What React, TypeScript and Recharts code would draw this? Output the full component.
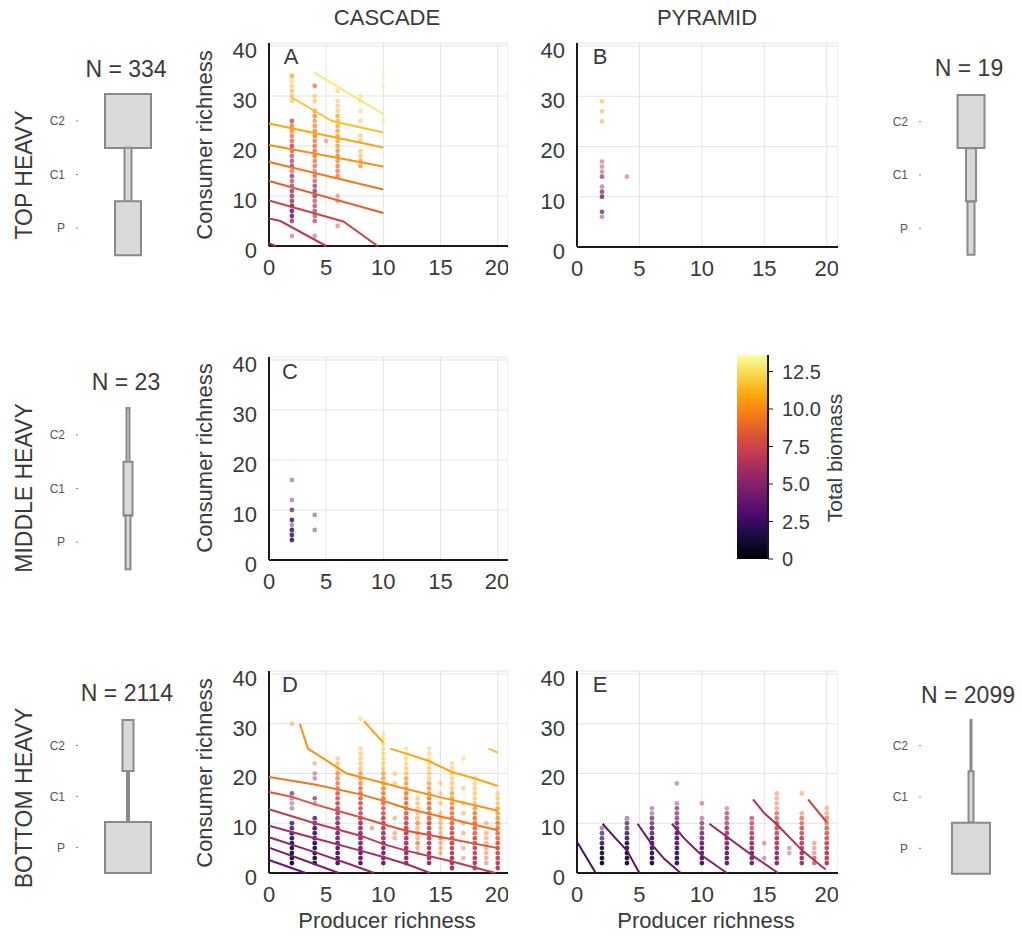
import React from "react";
import { ScatterChart, Scatter, XAxis, YAxis, CartesianGrid, BarChart, Bar } from "recharts";

const FONT = '"Liberation Sans", Arial, sans-serif';
const INK = "#3a3a3a";

// inferno colour map, 0 .. BIOMASS_MAX
const INFERNO = ["#000004", "#160b39", "#420a68", "#6a176e", "#932667", "#bc3754", "#dd513a", "#f37819", "#fca50a", "#f6d746", "#fcffa4"];
const BIOMASS_MAX = 13.6;

const X_TICKS = [0, 5, 10, 15, 20];
const Y_TICKS = [0, 10, 20, 30, 40];
const CB_TICKS = [0, 2.5, 5, 7.5, 10, 12.5];
const LEVELS = ["C2", "C1", "P"];

// trophic pyramids: box widths for C2, C1, P
const TOP_CASCADE = [46, 7, 26];
const MID_CASCADE = [3, 9, 5];
const BOT_CASCADE = [11, 2, 46];
const TOP_PYRAMID = [27, 10, 7];
const BOT_PYRAMID = [1, 5, 38];

// points: [producer richness, consumer richness, total biomass, count]
type Pt = [number, number, number, number];
const A_PTS: Pt[] = [
  [2, 2, 6.0, 1], [2, 5, 6.2, 3], [2, 6, 4.0, 3], [2, 7, 3.8, 3], [2, 8, 3.6, 3], [2, 9, 6.0, 3], [2, 10, 6.4, 3],
  [2, 11, 4.4, 2], [2, 12, 5.5, 2], [2, 13, 6.6, 2], [2, 14, 5.0, 2], [2, 15, 8.6, 2], [2, 16, 4.6, 2], [2, 17, 6.2, 2],
  [2, 18, 7.0, 2], [2, 19, 7.6, 2], [2, 20, 7.2, 3], [2, 21, 8.2, 2], [2, 22, 8.8, 2], [2, 23, 9.4, 2], [2, 24, 8.6, 2],
  [2, 25, 8.0, 3], [2, 29, 10.4, 1], [2, 30, 10.8, 1], [2, 31, 10.4, 1], [2, 32, 11.0, 1], [2, 33, 11.4, 1], [2, 34, 10.6, 2],
  [4, 2, 6.0, 1], [4, 5, 6.4, 2], [4, 6, 6.8, 2], [4, 7, 5.8, 2], [4, 8, 6.6, 2], [4, 9, 7.2, 2], [4, 10, 4.6, 2],
  [4, 11, 4.4, 2], [4, 12, 5.4, 2], [4, 13, 7.6, 2], [4, 14, 8.0, 2], [4, 15, 6.0, 1], [4, 16, 8.4, 2], [4, 17, 8.6, 2],
  [4, 18, 9.4, 3], [4, 19, 8.2, 2], [4, 20, 9.6, 3], [4, 21, 9.0, 2], [4, 22, 9.8, 3], [4, 23, 9.2, 2], [4, 24, 9.6, 2],
  [4, 25, 10.0, 2], [4, 26, 9.4, 2], [4, 27, 10.2, 2], [4, 29, 10.8, 1], [4, 30, 11.0, 1], [4, 32, 9.0, 2],
  [5, 21, 9.0, 1],
  [6, 4, 7.0, 1], [6, 9, 7.6, 1], [6, 10, 8.0, 1], [6, 14, 8.8, 2], [6, 15, 9.2, 2], [6, 16, 9.0, 2], [6, 17, 9.6, 2],
  [6, 18, 9.8, 3], [6, 19, 9.4, 2], [6, 20, 10.0, 2], [6, 21, 10.2, 2], [6, 22, 9.8, 2], [6, 23, 10.4, 2], [6, 24, 10.6, 2],
  [6, 25, 10.8, 2], [6, 26, 10.6, 2], [6, 27, 11.0, 1], [6, 28, 11.2, 1], [6, 29, 11.2, 1], [6, 31, 11.6, 1],
  [8, 16, 10.0, 2], [8, 17, 10.2, 2], [8, 18, 10.4, 1], [8, 19, 10.8, 1], [8, 21, 10.6, 1], [8, 22, 11.0, 1],
  [8, 25, 11.6, 1], [8, 27, 12.0, 1], [8, 29, 12.2, 1], [8, 30, 12.4, 1],
  [10, 25, 12.6, 1], [10, 32, 13.0, 1], [10, 34, 13.2, 1],
];
const B_PTS: Pt[] = [
  [2, 6, 4.6, 1], [2, 7, 3.4, 2], [2, 10, 4.8, 3], [2, 11, 4.4, 2], [2, 12, 5.0, 1], [2, 14, 5.6, 2], [2, 15, 5.4, 1],
  [2, 16, 5.8, 1], [2, 17, 6.0, 1], [2, 25, 10.2, 1], [2, 27, 10.4, 1], [2, 29, 10.6, 1], [4, 14, 6.4, 1],
];
const C_PTS: Pt[] = [
  [2, 4, 2.0, 3], [2, 5, 2.4, 3], [2, 6, 2.6, 3], [2, 7, 3.4, 1], [2, 8, 2.8, 3], [2, 10, 3.6, 2], [2, 12, 4.0, 1],
  [2, 16, 4.2, 1], [4, 6, 4.0, 1], [4, 9, 4.2, 1],
];

// columns: [producer richness, consumer richness values, biomass values, counts]
type Col = [number, number[], number[], number[]];
const D_COLS: Col[] = [
  [2, [2, 3, 4, 5, 6, 7, 8, 9, 10, 13, 14, 15, 16, 30],
    [1.2, 1.3, 1.5, 1.7, 1.9, 2.2, 2.5, 2.9, 3.4, 5.4, 5.8, 5.0, 4.4, 10.6],
    [5, 5, 5, 5, 5, 4, 4, 3, 3, 1, 1, 1, 2, 1]],
  [4, [2, 3, 4, 5, 6, 7, 8, 9, 10, 11, 14, 15, 19, 20, 22],
    [1.4, 1.5, 1.7, 1.9, 2.1, 2.4, 2.7, 3.0, 3.3, 3.6, 5.4, 4.8, 5.6, 6.2, 9.6],
    [5, 5, 5, 5, 5, 4, 4, 4, 3, 3, 1, 2, 1, 1, 1]],
  [6, [2, 3, 4, 5, 6, 7, 8, 9, 10, 11, 12, 13, 14, 15, 16, 17, 18, 19, 20, 21, 22, 23],
    [2.8, 3.1, 3.2, 3.6, 3.8, 4.3, 4.5, 5.1, 5.3, 5.9, 6.1, 6.7, 6.9, 7.5, 7.7, 8.3, 8.5, 9.1, 9.3, 9.9, 10.1, 10.7],
    [5, 5, 5, 5, 4, 4, 4, 4, 4, 3, 3, 3, 3, 3, 3, 2, 2, 2, 2, 1, 1, 1]],
  [8, [2, 3, 4, 5, 6, 7, 8, 9, 10, 11, 12, 13, 14, 15, 16, 17, 18, 19, 20, 21, 22, 23, 24, 25, 31],
    [3.4, 3.6, 3.9, 4.3, 4.5, 5.0, 5.2, 5.8, 6.0, 6.6, 6.8, 7.4, 7.6, 8.2, 8.4, 9.0, 9.2, 9.7, 9.9, 10.3, 10.5, 10.8, 11.0, 11.3, 11.9],
    [5, 5, 5, 5, 4, 4, 4, 4, 4, 4, 3, 3, 3, 3, 3, 3, 2, 2, 2, 1, 1, 1, 1, 1, 1]],
  [9, [9], [8.0], [1]],
  [10, [2, 3, 4, 5, 6, 7, 8, 9, 10, 11, 12, 13, 14, 15, 16, 17, 18, 19, 20, 21, 22, 23, 24, 25, 26, 27, 28],
    [4.2, 4.5, 4.8, 5.2, 5.4, 5.9, 6.1, 6.7, 6.9, 7.5, 7.7, 8.3, 8.5, 9.1, 9.3, 9.7, 9.9, 10.3, 10.5, 10.8, 11.0, 11.3, 11.4, 11.7, 11.8, 12.1, 12.2],
    [5, 5, 5, 5, 5, 4, 4, 4, 4, 4, 3, 3, 3, 3, 3, 3, 2, 2, 2, 1, 1, 1, 1, 1, 1, 1, 1]],
  [11, [7, 8, 11, 18, 20], [9.0, 9.2, 9.6, 11.0, 11.4], [1, 1, 1, 1, 1]],
  [12, [2, 3, 4, 5, 6, 7, 8, 9, 10, 11, 12, 13, 14, 15, 16, 17, 18, 19, 20, 21, 22, 23, 24, 25],
    [5.0, 5.2, 5.5, 5.8, 6.0, 6.4, 6.6, 7.1, 7.3, 7.7, 7.9, 8.4, 8.6, 9.0, 9.2, 9.6, 9.8, 10.2, 10.5, 10.8, 11.1, 11.4, 11.6, 11.9],
    [5, 5, 5, 5, 4, 4, 4, 4, 4, 3, 3, 3, 3, 3, 3, 2, 2, 2, 1, 1, 1, 1, 1, 1]],
  [13, [4, 5, 6, 7, 8, 9, 10, 11, 12, 13, 14, 15],
    [8.6, 8.8, 9.0, 9.1, 9.3, 9.5, 9.6, 9.8, 10.0, 10.1, 10.3, 10.5],
    [1, 1, 2, 1, 2, 1, 2, 1, 1, 1, 1, 1]],
  [14, [2, 3, 4, 5, 6, 7, 8, 9, 10, 11, 12, 13, 14, 15, 16, 17, 18, 19, 20, 21, 22, 23, 24, 25],
    [5.6, 5.8, 6.1, 6.3, 6.6, 6.9, 7.2, 7.5, 7.8, 8.1, 8.4, 8.7, 9.0, 9.3, 9.6, 9.9, 10.2, 10.5, 10.8, 11.0, 11.2, 11.4, 11.6, 11.8],
    [5, 5, 5, 5, 4, 4, 4, 4, 4, 3, 3, 3, 3, 3, 2, 2, 2, 1, 1, 1, 1, 1, 1, 1]],
  [15, [4, 5, 6, 7, 8, 9, 10, 11, 12, 14, 16, 18],
    [8.8, 9.0, 9.1, 9.3, 9.5, 9.7, 9.9, 10.1, 10.3, 10.6, 11.0, 11.3],
    [1, 1, 1, 2, 1, 1, 1, 1, 1, 1, 1, 1]],
  [16, [1, 2, 3, 4, 5, 6, 7, 8, 9, 10, 11, 12, 13, 14, 15, 16, 17, 18, 19, 20, 21, 22],
    [6.0, 6.2, 6.4, 6.7, 7.0, 7.2, 7.5, 7.8, 8.1, 8.4, 8.7, 9.0, 9.2, 9.5, 9.8, 10.1, 10.4, 10.6, 10.9, 11.2, 11.4, 11.7],
    [5, 5, 5, 5, 4, 4, 4, 4, 4, 3, 3, 3, 3, 2, 2, 2, 1, 1, 1, 1, 1, 1]],
  [17, [3, 5, 8, 10, 12, 14, 17, 23], [8.8, 9.2, 9.6, 9.8, 10.0, 10.4, 11.0, 12.0], [1, 1, 1, 1, 1, 1, 1, 1]],
  [18, [1, 2, 3, 4, 5, 6, 7, 8, 9, 10, 11, 12, 13, 14, 15, 16, 17, 18, 19],
    [6.4, 6.6, 6.9, 7.1, 7.4, 7.7, 8.0, 8.2, 8.5, 8.8, 9.1, 9.4, 9.7, 10.0, 10.3, 10.6, 10.9, 11.2, 11.5],
    [5, 5, 5, 4, 4, 4, 4, 3, 3, 3, 3, 3, 2, 1, 1, 1, 1, 1, 1]],
  [19, [2, 3, 4, 5, 6, 7, 8, 10], [8.4, 8.6, 8.8, 9.0, 9.2, 9.4, 9.6, 10.0], [1, 1, 1, 1, 1, 1, 1, 1]],
  [20, [1, 2, 3, 4, 5, 6, 7, 8, 9, 10, 11, 12, 13, 14, 15, 16],
    [6.8, 7.0, 7.2, 7.5, 7.8, 8.1, 8.4, 8.7, 9.0, 9.3, 9.6, 9.9, 10.2, 10.5, 10.8, 11.1],
    [5, 5, 5, 4, 4, 4, 3, 3, 3, 3, 2, 2, 2, 1, 1, 1]],
];
const E_COLS: Col[] = [
  [2, [2, 3, 4, 5, 6, 7, 8, 9], [0.7, 0.9, 1.1, 1.4, 1.7, 2.1, 2.4, 2.7], [5, 5, 4, 4, 3, 2, 2, 1]],
  [4, [2, 3, 4, 5, 6, 7, 8, 9, 10, 11], [1.0, 1.2, 1.4, 1.7, 2.0, 2.3, 2.6, 2.9, 3.2, 3.4], [5, 5, 5, 4, 4, 3, 3, 2, 2, 1]],
  [6, [2, 3, 4, 5, 6, 7, 8, 9, 10, 11, 12, 13], [1.6, 1.8, 2.0, 2.3, 2.6, 2.9, 3.2, 3.5, 3.8, 4.0, 4.2, 4.4], [5, 5, 5, 4, 4, 4, 3, 3, 2, 2, 1, 1]],
  [8, [2, 3, 4, 5, 6, 7, 8, 9, 10, 11, 12, 13, 14, 18], [2.2, 2.4, 2.6, 2.9, 3.2, 3.5, 3.8, 4.1, 4.4, 4.6, 4.8, 5.0, 5.2, 5.8], [5, 5, 5, 4, 4, 4, 4, 3, 3, 2, 2, 2, 1, 1]],
  [10, [2, 3, 4, 5, 6, 7, 8, 9, 10, 11, 14], [3.0, 3.2, 3.4, 3.7, 4.0, 4.3, 4.6, 4.9, 5.1, 5.3, 5.6], [5, 5, 4, 4, 4, 3, 3, 2, 2, 1, 1]],
  [12, [2, 3, 4, 5, 6, 7, 8, 9, 10, 11, 12, 13], [3.8, 4.0, 4.2, 4.5, 4.8, 5.1, 5.4, 5.7, 5.9, 6.1, 6.3, 6.5], [5, 5, 5, 4, 4, 4, 3, 3, 2, 2, 2, 1]],
  [14, [2, 3, 4, 5, 6, 7, 8, 9, 10, 11], [4.4, 4.6, 4.8, 5.1, 5.4, 5.7, 6.0, 6.3, 6.5, 6.7], [5, 5, 5, 4, 4, 3, 3, 2, 2, 2]],
  [15, [3, 6], [6.4, 7.0], [1, 1]],
  [16, [2, 3, 4, 5, 6, 7, 8, 9, 10, 11, 12, 13, 14, 15, 16], [5.2, 5.4, 5.6, 5.9, 6.2, 6.5, 6.8, 7.1, 7.4, 7.7, 8.0, 8.3, 8.6, 8.9, 9.2], [5, 5, 5, 4, 4, 4, 3, 3, 3, 2, 2, 1, 1, 1, 1]],
  [17, [4, 5], [7.4, 7.6], [1, 1]],
  [18, [2, 3, 4, 5, 6, 7, 8, 9, 10, 11, 12, 16], [5.8, 6.0, 6.2, 6.5, 6.8, 7.1, 7.4, 7.7, 8.0, 8.3, 8.6, 9.4], [5, 5, 5, 4, 4, 4, 3, 3, 2, 2, 1, 1]],
  [19, [2, 3, 4, 5, 6], [7.0, 7.2, 7.5, 7.8, 8.1], [2, 2, 1, 1, 1]],
  [20, [2, 3, 4, 5, 6, 7, 8, 9, 10, 11, 12, 13], [6.4, 6.6, 6.8, 7.1, 7.4, 7.7, 8.0, 8.3, 8.6, 8.9, 9.2, 9.5], [5, 5, 5, 4, 4, 3, 3, 3, 2, 2, 1, 1]],
];

// fitted biomass contours: level and vertices
type Contour = { b: number; pts: [number, number][] };
const A_LINES: Contour[] = [
  { b: 12.8, pts: [[3.95, 34.7], [8.0, 29.1], [10, 26.4]] },
  { b: 11.7, pts: [[1.85, 29.9], [5.5, 25], [10, 22.7]] },
  { b: 10.9, pts: [[0, 24.5], [10, 19.7]] },
  { b: 10.2, pts: [[0, 20.2], [10, 15.9]] },
  { b: 9.5, pts: [[0, 16.8], [10, 11.3]] },
  { b: 8.7, pts: [[0, 13.0], [10, 6.6]] },
  { b: 7.5, pts: [[0, 9.1], [6.5, 4.9], [9.5, 0]] },
  { b: 6.8, pts: [[0, 5.5], [1, 5.0], [5.0, 0]] },
  { b: 5.9, pts: [[0, 0.5], [0.6, 0]] },
];
const D_LINES: Contour[] = [
  { b: 4.0, pts: [[0, 2.6], [3.2, 0]] },
  { b: 4.7, pts: [[0, 5.1], [3, 2.6], [6.1, 0]] },
  { b: 5.4, pts: [[0, 7.2], [4, 4.2], [7, 1.8], [9.2, 0]] },
  { b: 6.1, pts: [[0, 9.5], [4, 7.0], [8, 4.5], [10, 3.2], [12, 1.8], [14.1, 0]] },
  { b: 7.0, pts: [[0, 12.8], [4, 10], [8, 7.5], [10, 5.8], [12, 4.5], [16, 2.3], [19.8, 0]] },
  { b: 8.2, pts: [[0, 16.3], [2, 15.3], [4, 13.8], [8, 11.2], [10, 9.8], [12, 8.5], [16, 6.8], [20, 5.0]] },
  { b: 9.4, pts: [[0, 19.3], [4, 17.8], [8, 15.8], [10, 14.5], [12, 13.0], [16, 10.8], [20, 8.6]] },
  { b: 10.3, pts: [[2.7, 30], [3.4, 25], [6.8, 20], [10, 18.1], [12, 16.9], [15, 15.2], [18, 13.6], [20, 12.5]] },
  { b: 10.9, pts: [[8.3, 30.5], [10, 26.2]] },
  { b: 10.9, pts: [[10.6, 25], [12, 24], [14, 22.5], [16, 20.3], [18, 19], [20, 17.5]] },
  { b: 11.6, pts: [[19.2, 25], [20, 24.2]] },
];
const E_LINES: Contour[] = [
  { b: 3.0, pts: [[0, 6.3], [1.5, 0]] },
  { b: 3.6, pts: [[2.05, 9.9], [3, 7.2], [4, 4.5], [5.0, 0]] },
  { b: 4.2, pts: [[4.85, 9.9], [6, 5.7], [7, 2.8], [8.3, 0]] },
  { b: 4.8, pts: [[7.6, 9.9], [8.6, 6.9], [10, 3.5], [12, 0]] },
  { b: 5.4, pts: [[10.6, 9.9], [12, 7.3], [14, 3.6], [16.1, 0]] },
  { b: 6.3, pts: [[14.1, 14.8], [15, 12], [16, 9.8], [18, 4.6], [19.9, 0.7]] },
  { b: 7.3, pts: [[18.5, 14.8], [20, 10.2]] },
];

function hexRgb(h: string) {
  return [1, 3, 5].map(i => parseInt(h.slice(i, i + 2), 16));
}

function inferno(b: number) {
  const t = Math.max(0, Math.min(1, b / BIOMASS_MAX)) * (INFERNO.length - 1);
  const i = Math.min(Math.floor(t), INFERNO.length - 2);
  const f = t - i;
  const a = hexRgb(INFERNO[i]);
  const c = hexRgb(INFERNO[i + 1]);
  const m = a.map((v, k) => Math.round(v + (c[k] - v) * f));
  return `rgb(${m[0]},${m[1]},${m[2]})`;
}

function colRows(cols: Col[]): Pt[] {
  const out: Pt[] = [];
  cols.forEach(([x, ys, bs, ns]) => ys.forEach((y, i) => out.push([x, y, bs[i], ns[i]])));
  return out;
}

const Dot = (p: any) => (
  <circle cx={p.cx} cy={p.cy} r={2.4} fill={p.payload.color} fillOpacity={p.payload.alpha} />
);
const NoDot = () => <g />;

const axisLine = { stroke: "#1a1a1a", strokeWidth: 2 };
const tickStyle = { fill: INK, fontSize: 22, fontFamily: FONT };

interface PanelProps {
  left: number; top: number; right: number; bottom: number;
  points: Pt[]; lines: Contour[];
}

function Panel({ left, top, right, bottom, points, lines }: PanelProps) {
  const yw = 79, mt = 13, xh = 40;
  const chartLeft = left - yw;
  const rows = points.map(([x, y, b, n]) => ({ x, y, color: inferno(b), alpha: 1 - Math.pow(0.55, n) }));
  return (
    <div style={{ position: "absolute", left: chartLeft, top: top - mt }}>
      <ScatterChart width={right - chartLeft} height={bottom - top + mt + xh} margin={{ top: mt, right: 0, bottom: 0, left: 0 }}>
        <CartesianGrid stroke="#e4e4e4" />
        <XAxis type="number" dataKey="x" domain={[0, 20.9]} ticks={X_TICKS} height={xh}
          tickLine={false} tickSize={0} tickMargin={13} axisLine={axisLine} tick={tickStyle} />
        <YAxis type="number" dataKey="y" domain={[0, 40.6]} ticks={Y_TICKS} width={yw}
          tickLine={false} tickSize={0} tickMargin={12} axisLine={axisLine} tick={{ ...tickStyle, dy: 4 }} />
        <Scatter data={rows} shape={Dot} isAnimationActive={false} />
        {lines.map((l, i) => (
          <Scatter key={i} data={l.pts.map(([x, y]) => ({ x, y }))} shape={NoDot}
            line={{ stroke: inferno(l.b), strokeWidth: 2 }} isAnimationActive={false} />
        ))}
      </ScatterChart>
    </div>
  );
}

function Pyramid({ cx, top, height, widths }: { cx: number; top: number; height: number; widths: number[] }) {
  const yw = 50;
  const rows = LEVELS.map((level, i) => ({ level, span: [-widths[i] / 2, widths[i] / 2] }));
  return (
    <div style={{ position: "absolute", left: cx - 50 - yw, top: top - 2 }}>
      <BarChart layout="vertical" width={yw + 100} height={height + 4} data={rows}
        margin={{ top: 2, right: 0, bottom: 2, left: 0 }} barCategoryGap={0} barGap={0}>
        <XAxis type="number" hide domain={[-50, 50]} />
        <YAxis type="category" dataKey="level" width={yw} axisLine={false} tickSize={2} tickMargin={11}
          tickLine={{ stroke: "#888" }} tick={{ fill: "#555", fontSize: 12, fontFamily: FONT }} />
        <Bar dataKey="span" fill="#d9d9d9" stroke="#8a8a8a" strokeWidth={2} isAnimationActive={false} />
      </BarChart>
    </div>
  );
}

function ColorBar() {
  return (
    <div style={{ position: "absolute", left: 737, top: 345 }}>
      <BarChart width={91} height={229} data={[{ name: "biomass", top: BIOMASS_MAX }]}
        margin={{ top: 10, right: 0, bottom: 15, left: 0 }} barCategoryGap={0}>
        <defs>
          <linearGradient id="infernoBar" x1="0" y1="1" x2="0" y2="0">
            {INFERNO.map((c, i) => <stop key={i} offset={`${i * 10}%`} stopColor={c} />)}
          </linearGradient>
        </defs>
        <XAxis dataKey="name" hide />
        <YAxis orientation="right" domain={[0, BIOMASS_MAX]} ticks={CB_TICKS} width={60}
          tickSize={5} tickMargin={9} axisLine={axisLine} tickLine={{ stroke: "#1a1a1a" }}
          tickFormatter={(v: number) => (v === 0 ? "0" : v.toFixed(1))}
          tick={{ fill: INK, fontSize: 20, fontFamily: FONT }} />
        <Bar dataKey="top" fill="url(#infernoBar)" isAnimationActive={false} />
      </BarChart>
    </div>
  );
}

function Txt({ x, y, size = 22, rotate = 0, children }: { x: number; y: number; size?: number; rotate?: number; children: React.ReactNode }) {
  return (
    <div style={{
      position: "absolute", left: x, top: y, fontSize: size, lineHeight: 1, whiteSpace: "nowrap",
      transform: `translate(-50%, -50%) rotate(${rotate}deg)`, color: INK, fontFamily: FONT,
    }}>
      {children}
    </div>
  );
}

export default function App() {
  return (
    <div style={{ position: "absolute", left: 0, top: 0, width: 1022, height: 938, background: "#fff", overflow: "hidden" }}>
      <Txt x={387} y={18}>CASCADE</Txt>
      <Txt x={707} y={18}>PYRAMID</Txt>

      <Txt x={24} y={175} size={23} rotate={-90}>TOP HEAVY</Txt>
      <Txt x={24} y={488} size={23} rotate={-90}>MIDDLE HEAVY</Txt>
      <Txt x={24} y={798} size={23} rotate={-90}>BOTTOM HEAVY</Txt>

      <Txt x={126} y={69} size={23}>N = 334</Txt>
      <Txt x={126} y={382} size={23}>N = 23</Txt>
      <Txt x={127} y={693} size={23}>N = 2114</Txt>
      <Txt x={969} y={68} size={23}>N = 19</Txt>
      <Txt x={968} y={695} size={23}>N = 2099</Txt>

      <Pyramid cx={128} top={94} height={161} widths={TOP_CASCADE} />
      <Pyramid cx={128} top={408} height={161} widths={MID_CASCADE} />
      <Pyramid cx={128} top={720} height={153} widths={BOT_CASCADE} />
      <Pyramid cx={971} top={95} height={160} widths={TOP_PYRAMID} />
      <Pyramid cx={971} top={720} height={154} widths={BOT_PYRAMID} />

      <Panel left={269} top={43} right={508} bottom={246} points={A_PTS} lines={A_LINES} />
      <Panel left={577} top={43} right={838} bottom={247} points={B_PTS} lines={[]} />
      <Panel left={269} top={357} right={508} bottom={560} points={C_PTS} lines={[]} />
      <Panel left={269} top={671} right={508} bottom={873} points={colRows(D_COLS)} lines={D_LINES} />
      <Panel left={577} top={671} right={838} bottom={873} points={colRows(E_COLS)} lines={E_LINES} />

      <Txt x={291} y={57}>A</Txt>
      <Txt x={600} y={57}>B</Txt>
      <Txt x={290} y={372}>C</Txt>
      <Txt x={290} y={685}>D</Txt>
      <Txt x={600} y={685}>E</Txt>

      <Txt x={205} y={145} rotate={-90}>Consumer richness</Txt>
      <Txt x={205} y={458} rotate={-90}>Consumer richness</Txt>
      <Txt x={205} y={773} rotate={-90}>Consumer richness</Txt>
      <Txt x={387} y={921}>Producer richness</Txt>
      <Txt x={706} y={921}>Producer richness</Txt>

      <ColorBar />
      <Txt x={834} y={458} size={21} rotate={-90}>Total biomass</Txt>
    </div>
  );
}
